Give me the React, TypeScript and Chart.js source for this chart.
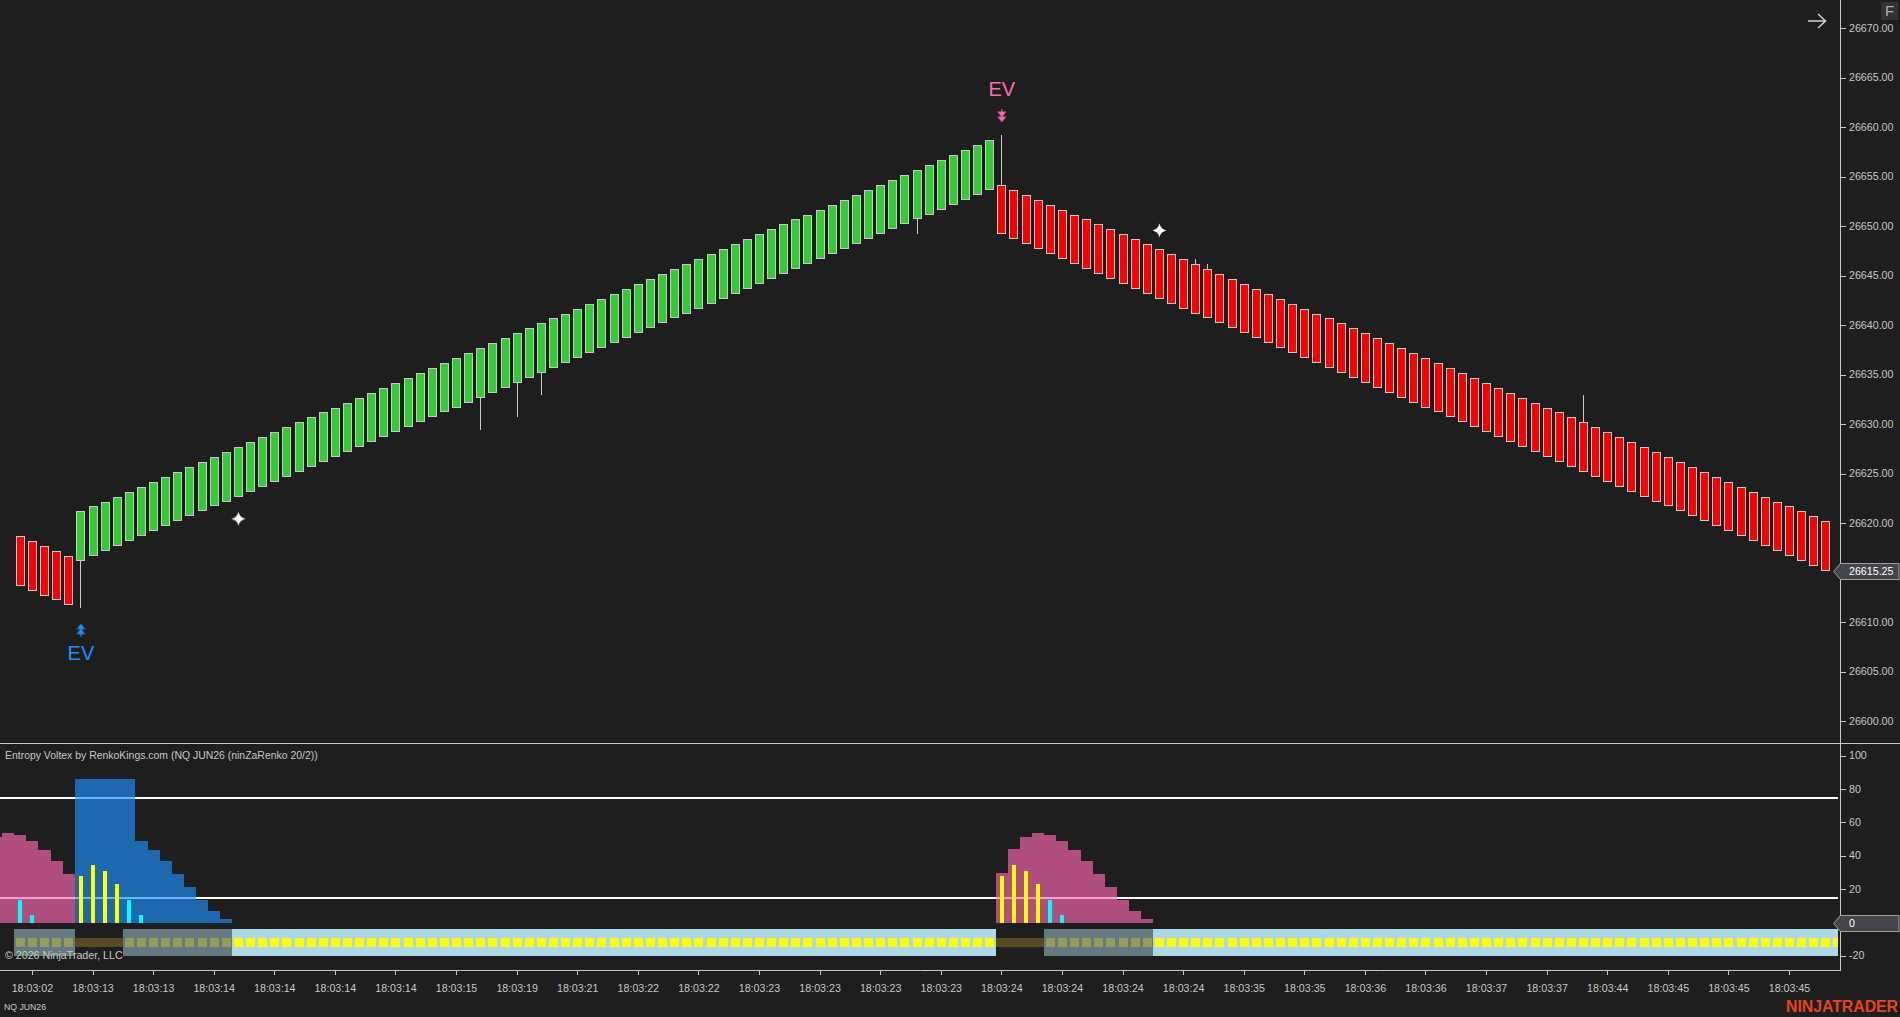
import React, { useEffect, useRef } from "react";
import { Chart, registerables } from "chart.js";

Chart.register(...registerables);

// ---------- price panel data ----------
const opens = [
  26618.75, 26618.25, 26617.75, 26617.25, 26616.75,
  26616.25, 26616.75, 26617.25, 26617.75, 26618.25, 26618.75, 26619.25, 26619.75, 26620.25, 26620.75,
  26621.25, 26621.75, 26622.25, 26622.75, 26623.25, 26623.75, 26624.25, 26624.75, 26625.25, 26625.75,
  26626.25, 26626.75, 26627.25, 26627.75, 26628.25, 26628.75, 26629.25, 26629.75, 26630.25, 26630.75,
  26631.25, 26631.75, 26632.25, 26632.75, 26633.25, 26633.75, 26634.25, 26634.75, 26635.25, 26635.75,
  26636.25, 26636.75, 26637.25, 26637.75, 26638.25, 26638.75, 26639.25, 26639.75, 26640.25, 26640.75,
  26641.25, 26641.75, 26642.25, 26642.75, 26643.25, 26643.75, 26644.25, 26644.75, 26645.25, 26645.75,
  26646.25, 26646.75, 26647.25, 26647.75, 26648.25, 26648.75, 26649.25, 26649.75, 26650.25, 26650.75,
  26651.25, 26651.75, 26652.25, 26652.75, 26653.25, 26653.75,
  26654.25, 26653.75, 26653.25, 26652.75, 26652.25, 26651.75, 26651.25, 26650.75, 26650.25, 26649.75,
  26649.25, 26648.75, 26648.25, 26647.75, 26647.25, 26646.75, 26646.25, 26645.75, 26645.25, 26644.75,
  26644.25, 26643.75, 26643.25, 26642.75, 26642.25, 26641.75, 26641.25, 26640.75, 26640.25, 26639.75,
  26639.25, 26638.75, 26638.25, 26637.75, 26637.25, 26636.75, 26636.25, 26635.75, 26635.25, 26634.75,
  26634.25, 26633.75, 26633.25, 26632.75, 26632.25, 26631.75, 26631.25, 26630.75, 26630.25, 26629.75,
  26629.25, 26628.75, 26628.25, 26627.75, 26627.25, 26626.75, 26626.25, 26625.75, 26625.25, 26624.75,
  26624.25, 26623.75, 26623.25, 26622.75, 26622.25, 26621.75, 26621.25, 26620.75, 26620.25,
];
const closes = [
  26613.75, 26613.25, 26612.75, 26612.25, 26611.75,
  26621.25, 26621.75, 26622.25, 26622.75, 26623.25, 26623.75, 26624.25, 26624.75, 26625.25, 26625.75,
  26626.25, 26626.75, 26627.25, 26627.75, 26628.25, 26628.75, 26629.25, 26629.75, 26630.25, 26630.75,
  26631.25, 26631.75, 26632.25, 26632.75, 26633.25, 26633.75, 26634.25, 26634.75, 26635.25, 26635.75,
  26636.25, 26636.75, 26637.25, 26637.75, 26638.25, 26638.75, 26639.25, 26639.75, 26640.25, 26640.75,
  26641.25, 26641.75, 26642.25, 26642.75, 26643.25, 26643.75, 26644.25, 26644.75, 26645.25, 26645.75,
  26646.25, 26646.75, 26647.25, 26647.75, 26648.25, 26648.75, 26649.25, 26649.75, 26650.25, 26650.75,
  26651.25, 26651.75, 26652.25, 26652.75, 26653.25, 26653.75, 26654.25, 26654.75, 26655.25, 26655.75,
  26656.25, 26656.75, 26657.25, 26657.75, 26658.25, 26658.75,
  26649.25, 26648.75, 26648.25, 26647.75, 26647.25, 26646.75, 26646.25, 26645.75, 26645.25, 26644.75,
  26644.25, 26643.75, 26643.25, 26642.75, 26642.25, 26641.75, 26641.25, 26640.75, 26640.25, 26639.75,
  26639.25, 26638.75, 26638.25, 26637.75, 26637.25, 26636.75, 26636.25, 26635.75, 26635.25, 26634.75,
  26634.25, 26633.75, 26633.25, 26632.75, 26632.25, 26631.75, 26631.25, 26630.75, 26630.25, 26629.75,
  26629.25, 26628.75, 26628.25, 26627.75, 26627.25, 26626.75, 26626.25, 26625.75, 26625.25, 26624.75,
  26624.25, 26623.75, 26623.25, 26622.75, 26622.25, 26621.75, 26621.25, 26620.75, 26620.25, 26619.75,
  26619.25, 26618.75, 26618.25, 26617.75, 26617.25, 26616.75, 26616.25, 26615.75, 26615.25,
];
const wickBars = [5, 38, 41, 43, 74, 81, 97, 98, 129];
const wickFrom = [26611.5, 26629.5, 26630.75, 26633, 26649.25, 26654.25, 26646.25, 26645.75, 26630.25];
const wickTo = [26616.25, 26632.75, 26634.25, 26635.25, 26650.75, 26659.25, 26646.75, 26646.25, 26633];

const priceTicks = [26600, 26605, 26610, 26620, 26625, 26630, 26635, 26640, 26645, 26650, 26655, 26660, 26665, 26670];
const lastPrice = 26615.25;

const buyArrowBars = [5];
const buyArrowPrices = [26609.25];
const sellArrowBars = [81];
const sellArrowPrices = [26661.25];
const starBars = [18, 94];
const starPrices = [26620.5, 26649.65];
const evBars = [5, 81];
const evPrices = [26606.8, 26663.8];

// ---------- oscillator panel data ----------
const pinkBars = [-2, -1, 0, 1, 2, 3, 4, 81, 82, 83, 84, 85, 86, 87, 88, 89, 90, 91, 92, 93];
const pinkValues = [51.6, 54, 52.8, 49.2, 43.8, 37.2, 29.4, 30, 44.4, 51.6, 54, 52.8, 49.2, 43.8, 37.2, 29.4, 21.6, 13.8, 7.2, 2.4];
const blueBars = [5, 6, 7, 8, 9, 10, 11, 12, 13, 14, 15, 16, 17];
const blueValues = [86.4, 86.4, 86.4, 86.4, 86.4, 49.2, 43.8, 37.2, 29.4, 21.6, 13.8, 7.2, 2.4];
const yellowBars = [5, 6, 7, 8, 81, 82, 83, 84];
const yellowValues = [28.2, 34.8, 31.2, 23.4, 28.2, 34.8, 31.2, 23.4];
const cyanBars = [0, 1, 9, 10, 85, 86];
const cyanValues = [13.8, 4.8, 13.8, 4.8, 13.8, 4.8];
const levels = [75, 15];
const levelSpan = [-2, 150];
const zoneStart = [0, 5, 9, 18, 81, 85, 94];
const zoneEnd = [4, 8, 17, 80, 84, 93, 150];
const zoneKind = ["dim", "strip", "dim", "full", "strip", "dim", "full"];
const bandRange = [-19.8, -3.6];
const squareRange = [-14.4, -9];
const oscTicks = [100, 80, 60, 40, 20, -20];
const oscLast = 0;

const timeTickBars = [1, 6, 11, 16, 21, 26, 31, 36, 41, 46, 51, 56, 61, 66, 71, 76, 81, 86, 91, 96, 101, 106, 111, 116, 121, 126, 131, 136, 141, 146];
const timeLabels = [
  "18:03:02", "18:03:13", "18:03:13", "18:03:14", "18:03:14", "18:03:14", "18:03:14", "18:03:15", "18:03:19", "18:03:21",
  "18:03:22", "18:03:22", "18:03:23", "18:03:23", "18:03:23", "18:03:23", "18:03:24", "18:03:24", "18:03:24", "18:03:24",
  "18:03:35", "18:03:35", "18:03:36", "18:03:36", "18:03:37", "18:03:37", "18:03:44", "18:03:45", "18:03:45", "18:03:45",
];

const panelTitle = "Entropy Voltex by RenkoKings.com (NQ JUN26 (ninZaRenko 20/2))";
const copyright = "\u00A9 2026 NinjaTrader, LLC";
const instrument = "NQ JUN26";
const brand = "NINJATRADER";

// ---------- style ----------
const BG = "#1E1E1E";
const FG = "#C8C8C8";
const FAMILY = '"Liberation Sans", Arial, sans-serif';
const TICK_FONT = { family: FAMILY, size: 10.67 };
const X_MIN = -1.675;
const X_MAX = 150.167;
const PINK = "#FF69B4";
const BLUE = "#1E90FF";

function spriteCanvas(w: number, h: number, paint: (c: CanvasRenderingContext2D) => void) {
  const cv = document.createElement("canvas");
  cv.width = w;
  cv.height = h;
  paint(cv.getContext("2d") as CanvasRenderingContext2D);
  return cv;
}

function makeStar() {
  return spriteCanvas(15, 15, (c) => {
    const m = 7.5;
    const r = 7;
    const q = 1.2;
    c.fillStyle = "#FFFFFF";
    c.beginPath();
    c.moveTo(m, m - r);
    c.quadraticCurveTo(m + q, m - q, m + r, m);
    c.quadraticCurveTo(m + q, m + q, m, m + r);
    c.quadraticCurveTo(m - q, m + q, m - r, m);
    c.quadraticCurveTo(m - q, m - q, m, m - r);
    c.fill();
  });
}

function makeArrows(color: string, up: boolean) {
  return spriteCanvas(11, 15, (c) => {
    if (!up) {
      c.translate(0, 15);
      c.scale(1, -1);
    }
    c.fillStyle = color;
    c.beginPath();
    c.moveTo(5.5, 1);
    c.lineTo(10, 6.5);
    c.lineTo(1, 6.5);
    c.closePath();
    c.moveTo(5.5, 6);
    c.lineTo(10, 11.5);
    c.lineTo(1, 11.5);
    c.closePath();
    c.fill();
    c.fillRect(5, 10, 1, 4);
  });
}

function drawFlag(ctx: CanvasRenderingContext2D, y: number, text: string) {
  const yy = Math.round(y) + 0.5;
  ctx.save();
  ctx.beginPath();
  ctx.moveTo(1833.5, yy);
  ctx.lineTo(1840.5, yy - 8);
  ctx.lineTo(1899, yy - 8);
  ctx.lineTo(1899, yy + 8);
  ctx.lineTo(1840.5, yy + 8);
  ctx.closePath();
  ctx.fillStyle = "#45454D";
  ctx.fill();
  ctx.strokeStyle = "#A0A0A0";
  ctx.lineWidth = 1;
  ctx.stroke();
  ctx.fillStyle = "#FFFFFF";
  ctx.font = `10.67px ${FAMILY}`;
  ctx.textAlign = "left";
  ctx.textBaseline = "middle";
  ctx.fillText(text, 1849, yy + 0.5);
  ctx.restore();
}

const backgroundPlugin = {
  id: "panelBackground",
  beforeDraw(chart: any) {
    const { ctx, width, height } = chart;
    ctx.save();
    ctx.fillStyle = BG;
    ctx.fillRect(0, 0, width, height);
    ctx.restore();
  },
};

// Bars land on whole pixels, so neighbouring translucent bars leave no seams.
const pixelSnapPlugin = {
  id: "pixelSnap",
  afterDatasetsUpdate(chart: any) {
    const xs = chart.scales.x;
    const step = xs.getPixelForValue(1) - xs.getPixelForValue(0);
    chart.data.datasets.forEach((ds: any, i: number) => {
      const meta = chart.getDatasetMeta(i);
      if (meta.type !== "bar") return;
      meta.data.forEach((el: any) => {
        const w = ds.contiguous ? step : el.width;
        const left = Math.round(el.x - w / 2);
        const right = Math.round(el.x + w / 2);
        el.x = (left + right) / 2;
        el.width = right - left;
        el.y = Math.round(el.y);
        el.base = Math.round(el.base);
      });
    });
  },
};

const priceOverlay = {
  id: "priceOverlay",
  afterDraw(chart: any) {
    const { ctx, scales } = chart;
    ctx.save();
    ctx.font = `20px ${FAMILY}`;
    ctx.textAlign = "center";
    ctx.textBaseline = "middle";
    evBars.forEach((b, i) => {
      ctx.fillStyle = i === 0 ? BLUE : PINK;
      ctx.fillText("EV", scales.x.getPixelForValue(b), scales.y.getPixelForValue(evPrices[i]));
    });
    // top-right arrow
    ctx.strokeStyle = "#D2D2D2";
    ctx.lineWidth = 1.5;
    ctx.beginPath();
    ctx.moveTo(1808, 21);
    ctx.lineTo(1825, 21);
    ctx.moveTo(1818, 14);
    ctx.lineTo(1825.5, 21);
    ctx.lineTo(1818, 28);
    ctx.stroke();
    // F button
    ctx.fillStyle = "#333333";
    ctx.fillRect(1881, 2, 17, 18);
    ctx.fillStyle = "#B0B0B0";
    ctx.font = `15px ${FAMILY}`;
    ctx.textAlign = "center";
    ctx.fillText("F", 1889.5, 12);
    ctx.restore();
    drawFlag(ctx, scales.y.getPixelForValue(lastPrice), lastPrice.toFixed(2));
  },
};

const oscOverlay = {
  id: "oscOverlay",
  afterDraw(chart: any) {
    const { ctx, scales, width } = chart;
    ctx.save();
    ctx.fillStyle = FG;
    ctx.fillRect(0, 0, width, 1);
    ctx.textAlign = "left";
    ctx.textBaseline = "middle";
    ctx.font = `10.45px ${FAMILY}`;
    ctx.fillText(panelTitle, 5, 13);
    ctx.font = `10.67px ${FAMILY}`;
    ctx.fillText(copyright, 5, 213.5);
    ctx.font = `8.7px ${FAMILY}`;
    ctx.fillText(instrument, 4, 265);
    ctx.fillStyle = "#E8431F";
    ctx.font = `bold 16px ${FAMILY}`;
    ctx.textAlign = "right";
    ctx.fillText(brand, 1898, 264.5, 112);
    ctx.restore();
    drawFlag(ctx, scales.y.getPixelForValue(oscLast), String(oscLast));
  },
};

function yAxis(min: number, max: number, ticks: number[], format: (v: number) => string) {
  return {
    position: "right" as const,
    min,
    max,
    afterFit(s: any) {
      s.width = 60;
      s.paddingTop = 0;
      s.paddingBottom = 0;
    },
    afterBuildTicks(s: any) {
      s.ticks = ticks.map((value) => ({ value }));
    },
    border: { color: FG, width: 1 },
    grid: { display: true, drawOnChartArea: false, drawTicks: true, tickLength: 6, tickColor: FG, tickWidth: 1 },
    ticks: {
      color: FG,
      font: TICK_FONT,
      padding: 3,
      autoSkip: false,
      maxRotation: 0,
      callback: (v: any) => format(Number(v)),
    },
  };
}

const baseOptions = {
  responsive: false,
  animation: false as const,
  devicePixelRatio: 1,
  events: [] as any[],
  layout: { padding: 0, autoPadding: false },
  plugins: { legend: { display: false }, tooltip: { enabled: false } },
};

function priceConfig() {
  const bars = opens.map((o, i) => ({ x: i, y: [Math.min(o, closes[i]), Math.max(o, closes[i])] }));
  return {
    type: "bar",
    plugins: [backgroundPlugin, pixelSnapPlugin, priceOverlay],
    data: {
      datasets: [
        {
          label: "wicks",
          grouped: false,
          order: 3,
          barThickness: 1,
          inflateAmount: 0,
          backgroundColor: FG,
          data: wickBars.map((b, i) => ({ x: b, y: [wickFrom[i], wickTo[i]] })),
        },
        {
          label: "bricks",
          grouped: false,
          order: 2,
          barThickness: 9,
          inflateAmount: 0,
          borderWidth: 1,
          borderSkipped: false,
          borderColor: FG,
          backgroundColor: opens.map((o, i) => (closes[i] > o ? "#32CD32" : "#FF0000")),
          data: bars,
        },
        {
          type: "line",
          label: "stars",
          order: 1,
          showLine: false,
          pointStyle: makeStar(),
          pointRadius: 6,
          data: starBars.map((b, i) => ({ x: b, y: starPrices[i] })),
        },
        {
          type: "line",
          label: "buy",
          order: 1,
          showLine: false,
          pointStyle: makeArrows(BLUE, true),
          pointRadius: 6,
          data: buyArrowBars.map((b, i) => ({ x: b, y: buyArrowPrices[i] })),
        },
        {
          type: "line",
          label: "sell",
          order: 1,
          showLine: false,
          pointStyle: makeArrows(PINK, false),
          pointRadius: 6,
          data: sellArrowBars.map((b, i) => ({ x: b, y: sellArrowPrices[i] })),
        },
      ],
    },
    options: {
      ...baseOptions,
      scales: {
        x: { type: "linear", display: false, min: X_MIN, max: X_MAX, offset: false, grid: { offset: false } },
        y: yAxis(26597.85, 26672.93, priceTicks, (v) => v.toFixed(2)),
      },
    },
  };
}

function oscConfig() {
  const band: any[] = [];
  const bandColors: string[] = [];
  const strip: any[] = [];
  const squares: any[] = [];
  const squareColors: string[] = [];
  zoneKind.forEach((kind, z) => {
    for (let b = zoneStart[z]; b <= zoneEnd[z]; b++) {
      if (kind === "strip") {
        strip.push({ x: b, y: squareRange });
      } else {
        band.push({ x: b, y: bandRange });
        bandColors.push(kind === "dim" ? "#647A80" : "#ADD8E6");
        squares.push({ x: b, y: squareRange });
        squareColors.push(kind === "dim" ? "#959B58" : "#FFFF00");
      }
    }
  });
  const clipEnd = { left: 0, top: 0, right: -2, bottom: 0 };
  return {
    type: "bar",
    plugins: [backgroundPlugin, pixelSnapPlugin, oscOverlay],
    data: {
      datasets: [
        ...levels.map((lv) => ({
          type: "line",
          label: `level ${lv}`,
          order: 6,
          borderColor: "#FFFFFF",
          borderWidth: 2,
          pointRadius: 0,
          data: levelSpan.map((x) => ({ x, y: lv })),
        })),
        {
          label: "pink",
          grouped: false,
          contiguous: true,
          order: 5,
          barThickness: 12,
          inflateAmount: 0,
          backgroundColor: "rgba(255,105,180,0.65)",
          data: pinkBars.map((x, i) => ({ x, y: pinkValues[i] })),
        },
        {
          label: "blue",
          grouped: false,
          contiguous: true,
          order: 5,
          barThickness: 12,
          inflateAmount: 0,
          backgroundColor: "rgba(30,144,255,0.65)",
          data: blueBars.map((x, i) => ({ x, y: blueValues[i] })),
        },
        {
          label: "yellow",
          grouped: false,
          order: 4,
          barThickness: 4,
          inflateAmount: 0,
          backgroundColor: "#FFFF00",
          data: yellowBars.map((x, i) => ({ x, y: yellowValues[i] })),
        },
        {
          label: "cyan",
          grouped: false,
          order: 4,
          barThickness: 4,
          inflateAmount: 0,
          backgroundColor: "#00FFFF",
          data: cyanBars.map((x, i) => ({ x, y: cyanValues[i] })),
        },
        {
          label: "band",
          grouped: false,
          contiguous: true,
          order: 3,
          barThickness: 12,
          inflateAmount: 0,
          clip: clipEnd,
          backgroundColor: bandColors,
          data: band,
        },
        {
          label: "strip",
          grouped: false,
          contiguous: true,
          order: 2,
          barThickness: 12,
          inflateAmount: 0,
          backgroundColor: "#584A24",
          data: strip,
        },
        {
          label: "squares",
          grouped: false,
          order: 1,
          barThickness: 9,
          inflateAmount: 0,
          clip: clipEnd,
          backgroundColor: squareColors,
          data: squares,
        },
      ],
    },
    options: {
      ...baseOptions,
      scales: {
        x: {
          type: "linear",
          position: "bottom",
          min: X_MIN,
          max: X_MAX,
          offset: false,
          afterFit(s: any) {
            s.height = 47;
            s.paddingLeft = 0;
            s.paddingRight = 0;
          },
          afterBuildTicks(s: any) {
            s.ticks = timeTickBars.map((value) => ({ value }));
          },
          border: { color: FG, width: 1 },
          grid: { display: true, offset: false, drawOnChartArea: false, drawTicks: true, tickLength: 5, tickColor: FG, tickWidth: 1 },
          ticks: {
            color: FG,
            font: TICK_FONT,
            padding: 8,
            autoSkip: false,
            maxRotation: 0,
            minRotation: 0,
            callback: (v: any) => timeLabels[timeTickBars.indexOf(Number(v))],
          },
        },
        y: yAxis(-28.2, 108, oscTicks, (v) => String(v)),
      },
    },
  };
}

export default function App() {
  const priceRef = useRef<HTMLCanvasElement | null>(null);
  const oscRef = useRef<HTMLCanvasElement | null>(null);

  useEffect(() => {
    const pc = priceRef.current as HTMLCanvasElement;
    const oc = oscRef.current as HTMLCanvasElement;
    pc.getContext("2d", { alpha: false });
    oc.getContext("2d", { alpha: false });
    const a = new Chart(pc, priceConfig() as any);
    const b = new Chart(oc, oscConfig() as any);
    return () => {
      a.destroy();
      b.destroy();
    };
  }, []);

  return (
    <div style={{ position: "fixed", left: 0, top: 0, width: 1900, height: 1017, background: BG, overflow: "hidden" }}>
      <canvas ref={priceRef} width={1900} height={743} style={{ position: "absolute", left: 0, top: 0, display: "block" }} />
      <canvas ref={oscRef} width={1900} height={274} style={{ position: "absolute", left: 0, top: 743, display: "block" }} />
    </div>
  );
}
